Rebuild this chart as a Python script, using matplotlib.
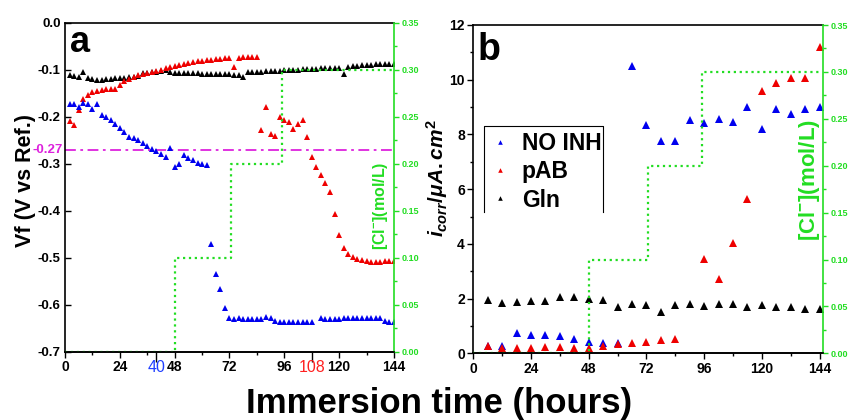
import matplotlib
matplotlib.use('Agg')
import matplotlib.pyplot as plt
from matplotlib.ticker import MultipleLocator, FixedLocator

plt.rcParams['font.family'] = ['Liberation Sans', 'DejaVu Sans']
plt.rcParams['font.weight'] = 'bold'
plt.rcParams['mathtext.fontset'] = 'custom'
plt.rcParams['mathtext.it'] = 'Liberation Sans:italic:bold'
plt.rcParams['mathtext.rm'] = 'Liberation Sans:bold'
plt.rcParams['mathtext.bf'] = 'Liberation Sans:bold'

# ---------------- Panel a data (free potential Vf, V vs Ref.) ----------------
a_noinh_t = [2, 4, 6, 8, 10, 12, 14, 16, 18, 20, 22, 24, 26, 28, 30, 32, 34, 36, 38, 40,
             42, 44, 46, 48, 50, 52, 54, 56, 58, 60, 62,
             64, 66, 68, 70, 72, 74, 76, 78, 80, 82, 84, 86, 88, 90, 92, 94, 96, 98, 100,
             102, 104, 106, 108, 112, 114, 116, 118, 120, 122, 124, 126, 128, 130, 132,
             134, 136, 138, 140, 142, 144]
a_noinh_v = [-0.174, -0.174, -0.179, -0.170, -0.172, -0.183, -0.173, -0.196, -0.200, -0.206,
             -0.215, -0.225, -0.233, -0.243, -0.245, -0.249, -0.256, -0.263, -0.269, -0.274,
             -0.280, -0.286, -0.267, -0.308, -0.300, -0.282, -0.287, -0.293, -0.298, -0.301,
             -0.303,
             -0.470, -0.534, -0.567, -0.606, -0.628, -0.630, -0.629, -0.630, -0.630, -0.631,
             -0.631, -0.630, -0.626, -0.629, -0.635, -0.636, -0.636, -0.636, -0.636, -0.636,
             -0.637, -0.637, -0.637, -0.628, -0.630, -0.631, -0.631, -0.631, -0.629, -0.629,
             -0.629, -0.629, -0.629, -0.628, -0.628, -0.628, -0.628, -0.634, -0.636, -0.636]

a_pab_t = [2, 4, 6, 8, 10, 12, 14, 16, 18, 20, 22, 24, 26, 28, 30, 32, 34, 36, 38, 40,
           42, 44, 46, 48, 50, 52, 54, 56, 58, 60, 62, 64, 66, 68, 70, 72, 74, 76, 78, 80,
           82, 84,
           86, 88, 90, 92, 94, 96, 98, 100, 102, 104, 106, 108, 110, 112, 114, 116, 118, 120,
           122, 124, 126, 128, 130, 132, 134, 136, 138, 140, 142, 144]
a_pab_v = [-0.209, -0.218, -0.186, -0.163, -0.153, -0.147, -0.145, -0.143, -0.142, -0.141,
           -0.140, -0.132, -0.125, -0.120, -0.116, -0.112, -0.109, -0.106, -0.104, -0.102,
           -0.100, -0.097, -0.094, -0.092, -0.089, -0.087, -0.085, -0.083, -0.082, -0.081,
           -0.080, -0.079, -0.078, -0.077, -0.076, -0.076, -0.095, -0.075, -0.074, -0.074,
           -0.074, -0.073,
           -0.229, -0.179, -0.236, -0.241, -0.201, -0.208, -0.211, -0.227, -0.215, -0.206,
           -0.243, -0.286, -0.308, -0.324, -0.342, -0.361, -0.406, -0.452, -0.479, -0.492,
           -0.499, -0.502, -0.505, -0.507, -0.510, -0.510, -0.510, -0.508, -0.507, -0.507]

a_gln_t = [2, 4, 6, 8, 10, 12, 14, 16, 18, 20, 22, 24, 26, 28, 30, 32, 34, 36, 38, 40,
           42, 44, 46, 48, 50, 52, 54, 56, 58, 60, 62, 64, 66, 68, 70, 72, 74, 76, 78, 80,
           82, 84, 86, 88, 90, 92, 94, 96, 98, 100, 102, 104, 106, 108, 110, 112, 114, 116,
           118, 120, 122, 124, 126, 128, 130, 132, 134, 136, 138, 140, 142, 144]
a_gln_v = [-0.111, -0.113, -0.115, -0.104, -0.118, -0.120, -0.122, -0.122, -0.120, -0.119,
           -0.118, -0.117, -0.117, -0.116, -0.115, -0.113, -0.108, -0.107, -0.105, -0.104,
           -0.102, -0.101, -0.105, -0.108, -0.108, -0.108, -0.108, -0.108, -0.108, -0.109,
           -0.109, -0.109, -0.109, -0.110, -0.110, -0.110, -0.111, -0.112, -0.116, -0.104,
           -0.104, -0.104, -0.104, -0.103, -0.103, -0.102, -0.102, -0.101, -0.101, -0.100,
           -0.100, -0.099, -0.099, -0.098, -0.098, -0.097, -0.097, -0.096, -0.096, -0.097,
           -0.110, -0.094, -0.093, -0.092, -0.091, -0.090, -0.089, -0.088, -0.087, -0.087,
           -0.087, -0.087]

a_ref_level = -0.27

# ---------------- Panel b data (corrosion current density) ----------------
b_t = [6, 12, 18, 24, 30, 36, 42, 48, 54, 60, 66, 72, 78, 84, 90, 96, 102, 108, 114, 120,
       126, 132, 138, 144]
b_noinh = [0.28, 0.25, 0.74, 0.67, 0.67, 0.62, 0.54, 0.40, 0.37, 0.37, 10.5, 8.36, 7.76, 7.76,
           8.52, 8.42, 8.57, 8.47, 8.99, 8.20, 8.92, 8.75, 8.93, 9.00]
b_pab_t = [6, 12, 18, 24, 30, 36, 42, 48, 54, 60, 66, 72, 78, 84, 96, 102, 108, 114, 120,
           126, 132, 138, 144]
b_pab = [0.28, 0.21, 0.20, 0.21, 0.245, 0.22, 0.21, 0.18, 0.28, 0.34, 0.37, 0.43, 0.48, 0.54,
         3.46, 2.73, 4.04, 5.63, 9.58, 9.88, 10.05, 10.08, 11.18]
b_gln = [1.93, 1.83, 1.86, 1.90, 1.90, 2.05, 2.05, 1.99, 1.93, 1.71, 1.80, 1.77, 1.52, 1.76,
         1.79, 1.74, 1.80, 1.79, 1.71, 1.76, 1.71, 1.71, 1.63, 1.63]

# Chloride concentration steps (mol/L)
cl_t = [0, 48, 72.5, 95, 144]
cl_c = [0.0, 0.1, 0.2, 0.3, 0.3]

series_labels = ['NO INH', 'pAB', 'Gln']
series_colors = ['#0000ee', '#ee0000', '#000000']
GREEN = '#22dd22'
MAGENTA = '#dd22dd'
cl_ticks = [0, 0.05, 0.1, 0.15, 0.2, 0.25, 0.3, 0.35]
cl_ticklabels = ['0.00', '0.05', '0.10', '0.15', '0.20', '0.25', '0.30', '0.35']

fig = plt.figure(figsize=(8.5, 4.2), dpi=100)
W, H = 850.0, 420.0

def add_ax(l, r, t, b):
    return fig.add_axes([l / W, 1 - b / H, (r - l) / W, (b - t) / H])

def style_cl_axis(ax2, label, fs, lx, ly):
    ax2.step(cl_t, cl_c, where='post', color=GREEN, lw=1.6, ls=':', zorder=1)
    ax2.set_ylim(0, 0.35)
    ax2.set_yticks(cl_ticks)
    ax2.set_yticklabels(cl_ticklabels)
    ax2.yaxis.set_minor_locator(MultipleLocator(0.025))
    ax2.tick_params(axis='y', colors=GREEN, labelsize=6.5, direction='out', length=3.5,
                    width=1, pad=2)
    ax2.tick_params(axis='y', which='minor', colors=GREEN, direction='out', length=2, width=1)
    ax2.spines['right'].set_color(GREEN)
    ax2.spines['right'].set_linewidth(1.2)
    ax2.spines['bottom'].set_color('black')
    ax2.spines['bottom'].set_linewidth(1.2)
    for s in ['left', 'top']:
        ax2.spines[s].set_visible(False)
    ax2.text(lx, ly, label, transform=ax2.transAxes, rotation=90,
             color=GREEN, fontsize=fs, fontweight='bold', ha='center', va='center')

# ======================= Panel a =======================
axa = add_ax(65, 394, 22.7, 351.7)
axa.plot(a_gln_t, a_gln_v, '^', color=series_colors[2], ms=4.2, mew=0, zorder=3)
axa.plot(a_pab_t, a_pab_v, '^', color=series_colors[1], ms=4.2, mew=0, zorder=3)
axa.plot(a_noinh_t, a_noinh_v, '^', color=series_colors[0], ms=4.2, mew=0, zorder=3)
axa.axhline(a_ref_level, color=MAGENTA, lw=1.3, dashes=(6, 2.5, 1.5, 2.5), zorder=2)
axa.set_xlim(0, 144)
axa.set_ylim(-0.7, 0.0)
axa.set_xticks([0, 24, 40, 48, 72, 96, 108, 120, 144])
axa.set_xticklabels(['0', '24', '40', '48', '72', '96', '108', '120', '144'])
axa.xaxis.set_minor_locator(FixedLocator([12, 36, 60, 84, 132]))
axa.set_yticks([0.0, -0.1, -0.2, -0.3, -0.4, -0.5, -0.6, -0.7])
axa.set_yticklabels(['0.0', '-0.1', '-0.2', '-0.3', '-0.4', '-0.5', '-0.6', '-0.7'])
axa.tick_params(axis='x', direction='out', length=4, width=1, labelsize=10, pad=2)
axa.tick_params(axis='x', which='minor', direction='out', length=2.5, width=1)
axa.tick_params(axis='y', direction='in', length=4, width=1, labelsize=9.5, pad=3)
for lab, tk in zip(axa.get_xticklabels(), axa.xaxis.get_major_ticks()):
    if lab.get_text() == '40':
        lab.set_color('#1f3fff'); lab.set_fontweight('normal'); lab.set_fontsize(11.5)
        tk.tick1line.set_color('#1f3fff'); tk.tick1line.set_markersize(7)
    if lab.get_text() == '108':
        lab.set_color('#ff2020'); lab.set_fontweight('normal'); lab.set_fontsize(11.5)
        tk.tick1line.set_color('#ff2020'); tk.tick1line.set_markersize(7)
axa.text(-0.005, a_ref_level, '-0.27', color=MAGENTA, fontsize=9.5, fontweight='bold',
         ha='right', va='center', transform=axa.get_yaxis_transform())
axa.set_ylabel('Vf (V vs Ref.)', fontsize=15.5, fontweight='bold')
axa.yaxis.set_label_coords(-0.088, 0.519)
axa.spines['right'].set_visible(False)
for s in ['left', 'top', 'bottom']:
    axa.spines[s].set_linewidth(1.2)
axa.text(0.015, 0.911, 'a', transform=axa.transAxes, fontsize=26, fontweight='bold')

axa2 = axa.twinx()
style_cl_axis(axa2, '[Cl$^{-}$](mol/L)', 11.5, 0.96, 0.443)

# ======================= Panel b =======================
axb = add_ax(473.3, 823, 25, 353.3)
h1, = axb.plot(b_t, b_noinh, '^', color=series_colors[0], ms=5.5, mew=0, zorder=3)
h2, = axb.plot(b_pab_t, b_pab, '^', color=series_colors[1], ms=5.5, mew=0, zorder=3)
h3, = axb.plot(b_t, b_gln, '^', color=series_colors[2], ms=5.5, mew=0, zorder=3)
axb.set_xlim(0, 145.4)
axb.set_ylim(0, 12)
axb.set_xticks([0, 24, 48, 72, 96, 120, 144])
axb.xaxis.set_minor_locator(FixedLocator([12, 36, 60, 84, 108, 132]))
axb.yaxis.set_major_locator(MultipleLocator(2))
axb.yaxis.set_minor_locator(MultipleLocator(1))
axb.tick_params(axis='both', direction='out', length=4, width=1, labelsize=10, pad=2)
axb.tick_params(axis='both', which='minor', direction='out', length=2.5, width=1)
axb.set_ylabel('$i_{corr}/\\mu A.cm^{2}$', fontsize=15)
axb.yaxis.set_label_coords(-0.067, 0.534)
axb.spines['right'].set_visible(False)
for s in ['left', 'top', 'bottom']:
    axb.spines[s].set_linewidth(1.2)
axb.text(0.013, 0.893, 'b', transform=axb.transAxes, fontsize=27, fontweight='bold')

leg = axb.legend([h1, h2, h3], series_labels, loc='upper left', bbox_to_anchor=(0.0435, 0.675),
                 frameon=False, fontsize=16.5, markerscale=0.6, handlelength=1.0,
                 handletextpad=0.45, labelspacing=0.236, borderpad=0, borderaxespad=0)
# legend box (open at the bottom as in the original)
lx0, lx1, ly0, ly1 = 0.0315, 0.370, 0.431, 0.692
axb.plot([lx0, lx0, lx1, lx1], [ly0, ly1, ly1, ly0], color='k', lw=0.8,
         transform=axb.transAxes, clip_on=False, zorder=4)

axb2 = axb.twinx()
style_cl_axis(axb2, '[Cl$^{-}$](mol/L)', 16, 0.962, 0.528)

fig.text(439 / W, 1 - 403 / H, 'Immersion time (hours)', fontsize=25, fontweight='bold',
         ha='center', va='center')

fig.savefig('out.png', dpi=100)
